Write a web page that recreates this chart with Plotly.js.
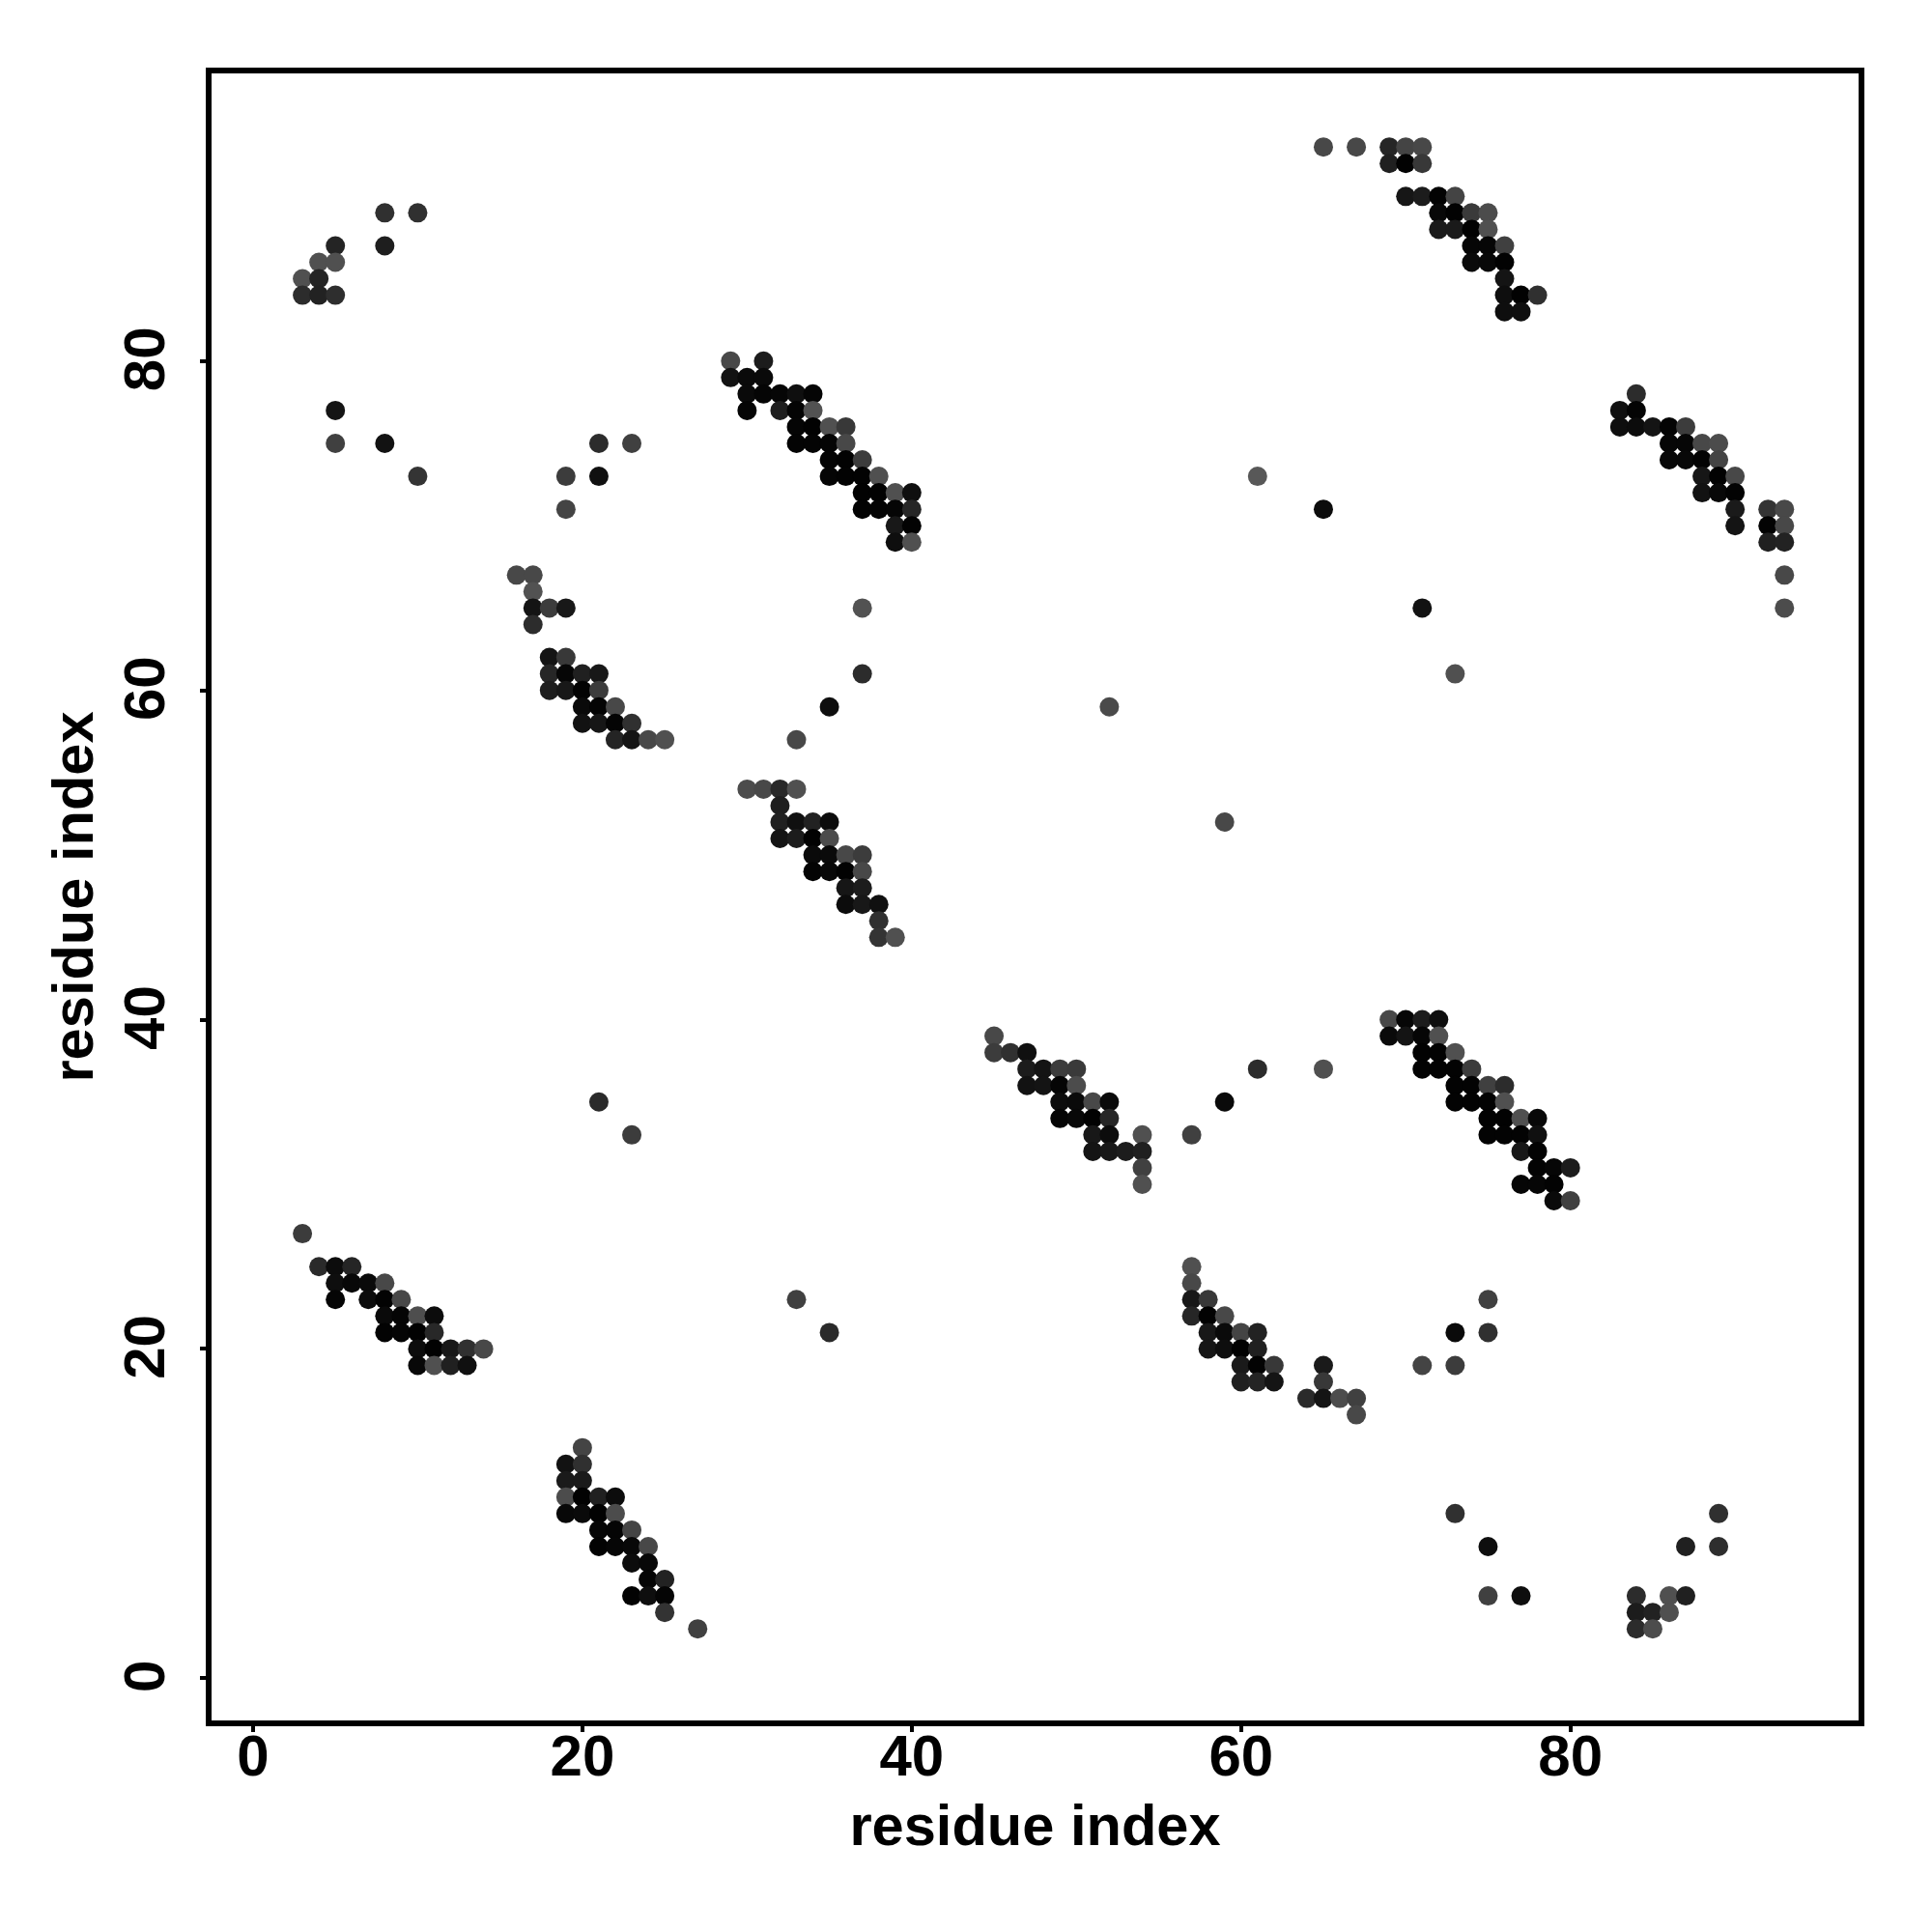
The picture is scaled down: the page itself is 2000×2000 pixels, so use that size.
<!DOCTYPE html>
<html>
<head>
<meta charset="utf-8">
<script src="https://cdn.plot.ly/plotly-3.0.1.min.js"></script>
<style>html,body{margin:0;padding:0;background:#fff}</style>
</head>
<body>
<div id="chart" style="width:2000px;height:2000px"></div>
<script>
// One entry per row of contacts: y residue, x residues in that row, grey level of each dot.
const rowY = [27,25,24,23,22,21,20,19,
  14,13,12,11,10,9,8,7,6,5,4,3,
  80,79,78,77,76,75,74,73,72,71,70,69,
  75,73,71,67,66,65,64,62,61,60,59,58,57,65,61,59,57,
  93,92,90,89,88,87,86,85,84,83,
  78,77,76,75,74,73,72,71,70,69,67,65,65,
  39,38,37,36,35,34,33,32,31,30,33,35,37,
  40,39,38,37,36,35,34,33,32,31,30,29,
  54,53,52,51,50,49,48,47,46,45,
  25,24,23,22,21,20,19,18,17,16,21,23,
  89,87,86,85,84,77,75,73,
  10,8,5,4,3,
  35,33,23,21,93,73,71,59,52,61];
const rowX = [[3],[4,5,6],[5,6,7,8],[5,7,8,9],[8,9,10,11],[8,9,10,11],[10,11,12,13,14],[10,11,12,13],
  [20],[19,20],[19,20],[19,20,21,22],[19,20,21,22],[21,22,23],[21,22,23,24],[23,24],[24,25],[23,24,25],[25],[27],
  [29,31],[29,30,31],[30,31,32,33,34],[30,32,33,34],[33,34,35,36],[33,34,35,36],[35,36,37],[35,36,37,38],[37,38,39,40],[37,38,39,40],[39,40],[39,40],
  [21,23],[19,21],[19],[16,17],[17],[17,18,19],[17],[18,19],[18,19,20,21],[18,19,20,21],[20,21,22],[20,21,22,23],[22,23,24,25],[37],[37],[35],[33],
  [67,69,70,71],[69,70,71],[70,71,72,73],[72,73,74,75],[72,73,74,75],[74,75,76],[74,75,76],[76],[76,77,78],[76,77],
  [84],[83,84],[83,84,85,86,87],[86,87,88,89],[86,87,88,89],[88,89,90],[88,89,90],[90,92,93],[90,92,93],[92,93],[93],[93],[71],
  [45],[45,46,47],[47,48,49,50],[47,48,49,50],[49,50,51,52],[49,50,51,52],[51,52,54],[51,52,53,54],[54],[54],[57],[59],[61,65],
  [69,70,71,72],[69,70,71,72],[71,72,73],[71,72,73,74],[73,74,75,76],[73,74,75,76],[75,76,77,78],[75,76,77,78],[77,78],[78,79,80],[77,78,79],[79,80],
  [30,31,32,33],[32],[32,33,34,35],[32,33,34,35],[34,35,36,37],[34,35,36,37],[36,37],[36,37,38],[38],[38,39],
  [57],[57],[57,58],[57,58,59],[58,59,60,61],[58,59,60,61],[60,61,62,65,71,73],[60,61,62,65],[64,65,66,67],[67],[73,75],[75],
  [8,10],[5,8],[4,5],[3,4],[3,4,5],[5],[5,8],[10],
  [73,89],[75,87,89],[75,77,84,86,87],[84,85,86],[84,85],
  [21],[23],[33],[35],[65],[61],[65],[52],[59],[73]];
const rowShade = [[0x3c],[0x2a,0x0c,0x25],[0x0e,0x08,0x0a,0x48],[0x05,0x0c,0x03,0x48],[0x0a,0x05,0x4e,0x0c],[0x03,0x05,0x02,0x28],[0x0c,0x02,0x18,0x30,0x48],[0x08,0x50,0x20,0x10],
  [0x44],[0x12,0x30],[0x1a,0x1a],[0x4c,0x02,0x20,0x0c],[0x08,0x0a,0x02,0x4c],[0x06,0x05,0x44],[0x03,0x06,0x08,0x48],[0x0c,0x08],[0x05,0x22],[0x03,0x0e,0x05],[0x33],[0x40],
  [0x48,0x1c],[0x12,0x0a,0x0a],[0x0a,0x05,0x06,0x0f,0x05],[0x05,0x1e,0x04,0x52],[0x05,0x02,0x50,0x38],[0x04,0x04,0x04,0x48],[0x04,0x02,0x3c],[0x05,0x03,0x03,0x50],[0x02,0x02,0x50,0x0f],[0x03,0x04,0x05,0x26],[0x18,0x03],[0x0e,0x50],
  [0x2c,0x40],[0x3c,0x10],[0x44],[0x48,0x48],[0x52],[0x14,0x3c,0x18],[0x2c],[0x14,0x38],[0x26,0x06,0x20,0x18],[0x1e,0x18,0x03,0x3c],[0x0a,0x04,0x48],[0x12,0x16,0x04,0x30],[0x24,0x14,0x48,0x50],[0x52],[0x2c],[0x0e],[0x48],
  [0x48,0x26,0x44,0x48],[0x20,0x02,0x38],[0x16,0x1c,0x03,0x44],[0x08,0x02,0x3a,0x4c],[0x1a,0x1a,0x02,0x50],[0x06,0x06,0x40],[0x0a,0x08,0x02],[0x14],[0x0e,0x02,0x30],[0x0e,0x0e],
  [0x2c],[0x10,0x04],[0x0e,0x0c,0x14,0x04,0x3c],[0x06,0x06,0x48,0x4c],[0x08,0x08,0x03,0x44],[0x16,0x02,0x48],[0x12,0x08,0x03],[0x1a,0x34,0x48],[0x14,0x03,0x48],[0x20,0x22],[0x48],[0x4c],[0x12],
  [0x48],[0x3c,0x30,0x10],[0x1c,0x14,0x3c,0x3a],[0x12,0x14,0x05,0x4c],[0x0c,0x0a,0x48,0x0a],[0x05,0x08,0x02,0x26],[0x18,0x0c,0x50],[0x14,0x18,0x1c,0x20],[0x40],[0x50],[0x40],[0x0a],[0x2c,0x50],
  [0x48,0x06,0x1c,0x0e],[0x0a,0x14,0x06,0x50],[0x02,0x02,0x50],[0x03,0x03,0x03,0x3c],[0x03,0x03,0x40,0x2c],[0x03,0x03,0x03,0x50],[0x02,0x02,0x50,0x08],[0x03,0x03,0x03,0x10],[0x18,0x03],[0x03,0x06,0x1c],[0x06,0x06,0x03],[0x0a,0x40],
  [0x4c,0x48,0x28,0x50],[0x1e],[0x20,0x10,0x22,0x0c],[0x14,0x1c,0x02,0x4c],[0x0a,0x0a,0x48,0x3c],[0x04,0x08,0x02,0x48],[0x16,0x1c],[0x0c,0x18,0x10],[0x30],[0x34,0x50],
  [0x50],[0x48],[0x18,0x38],[0x26,0x02,0x48],[0x18,0x0a,0x44,0x22],[0x16,0x0e,0x02,0x20],[0x1a,0x03,0x38,0x1a,0x44,0x3c],[0x20,0x24,0x14,0x38],[0x2a,0x14,0x4c,0x40],[0x48],[0x0a,0x30],[0x40],
  [0x30,0x30],[0x24,0x1e],[0x50,0x50],[0x50,0x24],[0x2c,0x22,0x2e],[0x14],[0x40,0x12],[0x34],
  [0x30,0x30],[0x0e,0x20,0x2e],[0x40,0x0e,0x2c,0x50,0x20],[0x1c,0x22,0x50],[0x2c,0x4c],
  [0x2a],[0x3c],[0x40],[0x2a],[0x48],[0x58],[0x0c],[0x4a],[0x48],[0x50]];
const xTickValues = [0,20,40,60,80];
const yTickValues = [0,20,40,60,80];
const xAxisName = "residue index";
const yAxisName = "residue index";

const xs = [], ys = [], colors = [];
rowY.forEach((y, i) => {
  rowX[i].forEach((x, j) => {
    const g = rowShade[i][j];
    xs.push(x); ys.push(y); colors.push(`rgb(${g},${g},${g})`);
  });
});

const fontFamily = '"Liberation Sans", Arial, sans-serif';
const axisCommon = {
  showgrid: false, zeroline: false, showline: true, mirror: true,
  linecolor: '#000', linewidth: 6,
  ticks: 'outside', ticklen: 6, tickwidth: 4, tickcolor: '#000',
  tickmode: 'array',
  tickfont: {family: fontFamily, size: 60, color: '#000', weight: 700}
};

Plotly.newPlot('chart', [{
  type: 'scatter', mode: 'markers', x: xs, y: ys,
  marker: {size: 20, color: colors, line: {width: 0}},
  hoverinfo: 'x+y'
}], {
  width: 2000, height: 2000,
  paper_bgcolor: '#fff', plot_bgcolor: '#fff',
  showlegend: false,
  margin: {l: 219, r: 75.5, t: 75.5, b: 219, pad: 0},
  xaxis: Object.assign({}, axisCommon, {
    range: [-2.52, 97.5], tickvals: xTickValues, ticktext: xTickValues.map(String),
    tickangle: 0, ticklabelstandoff: -27,
    title: {text: xAxisName, standoff: 20, font: {family: fontFamily, size: 59.6, color: '#000', weight: 700}}
  }),
  yaxis: Object.assign({}, axisCommon, {
    range: [-2.563, 97.47], tickvals: yTickValues, ticktext: yTickValues.map(String),
    tickangle: -90, ticklabelstandoff: 13, ticklabelshift: 7,
    title: {text: yAxisName, standoff: 2, font: {family: fontFamily, size: 59.6, color: '#000', weight: 700}}
  })
}, {staticPlot: true});
</script>
</body>
</html>
